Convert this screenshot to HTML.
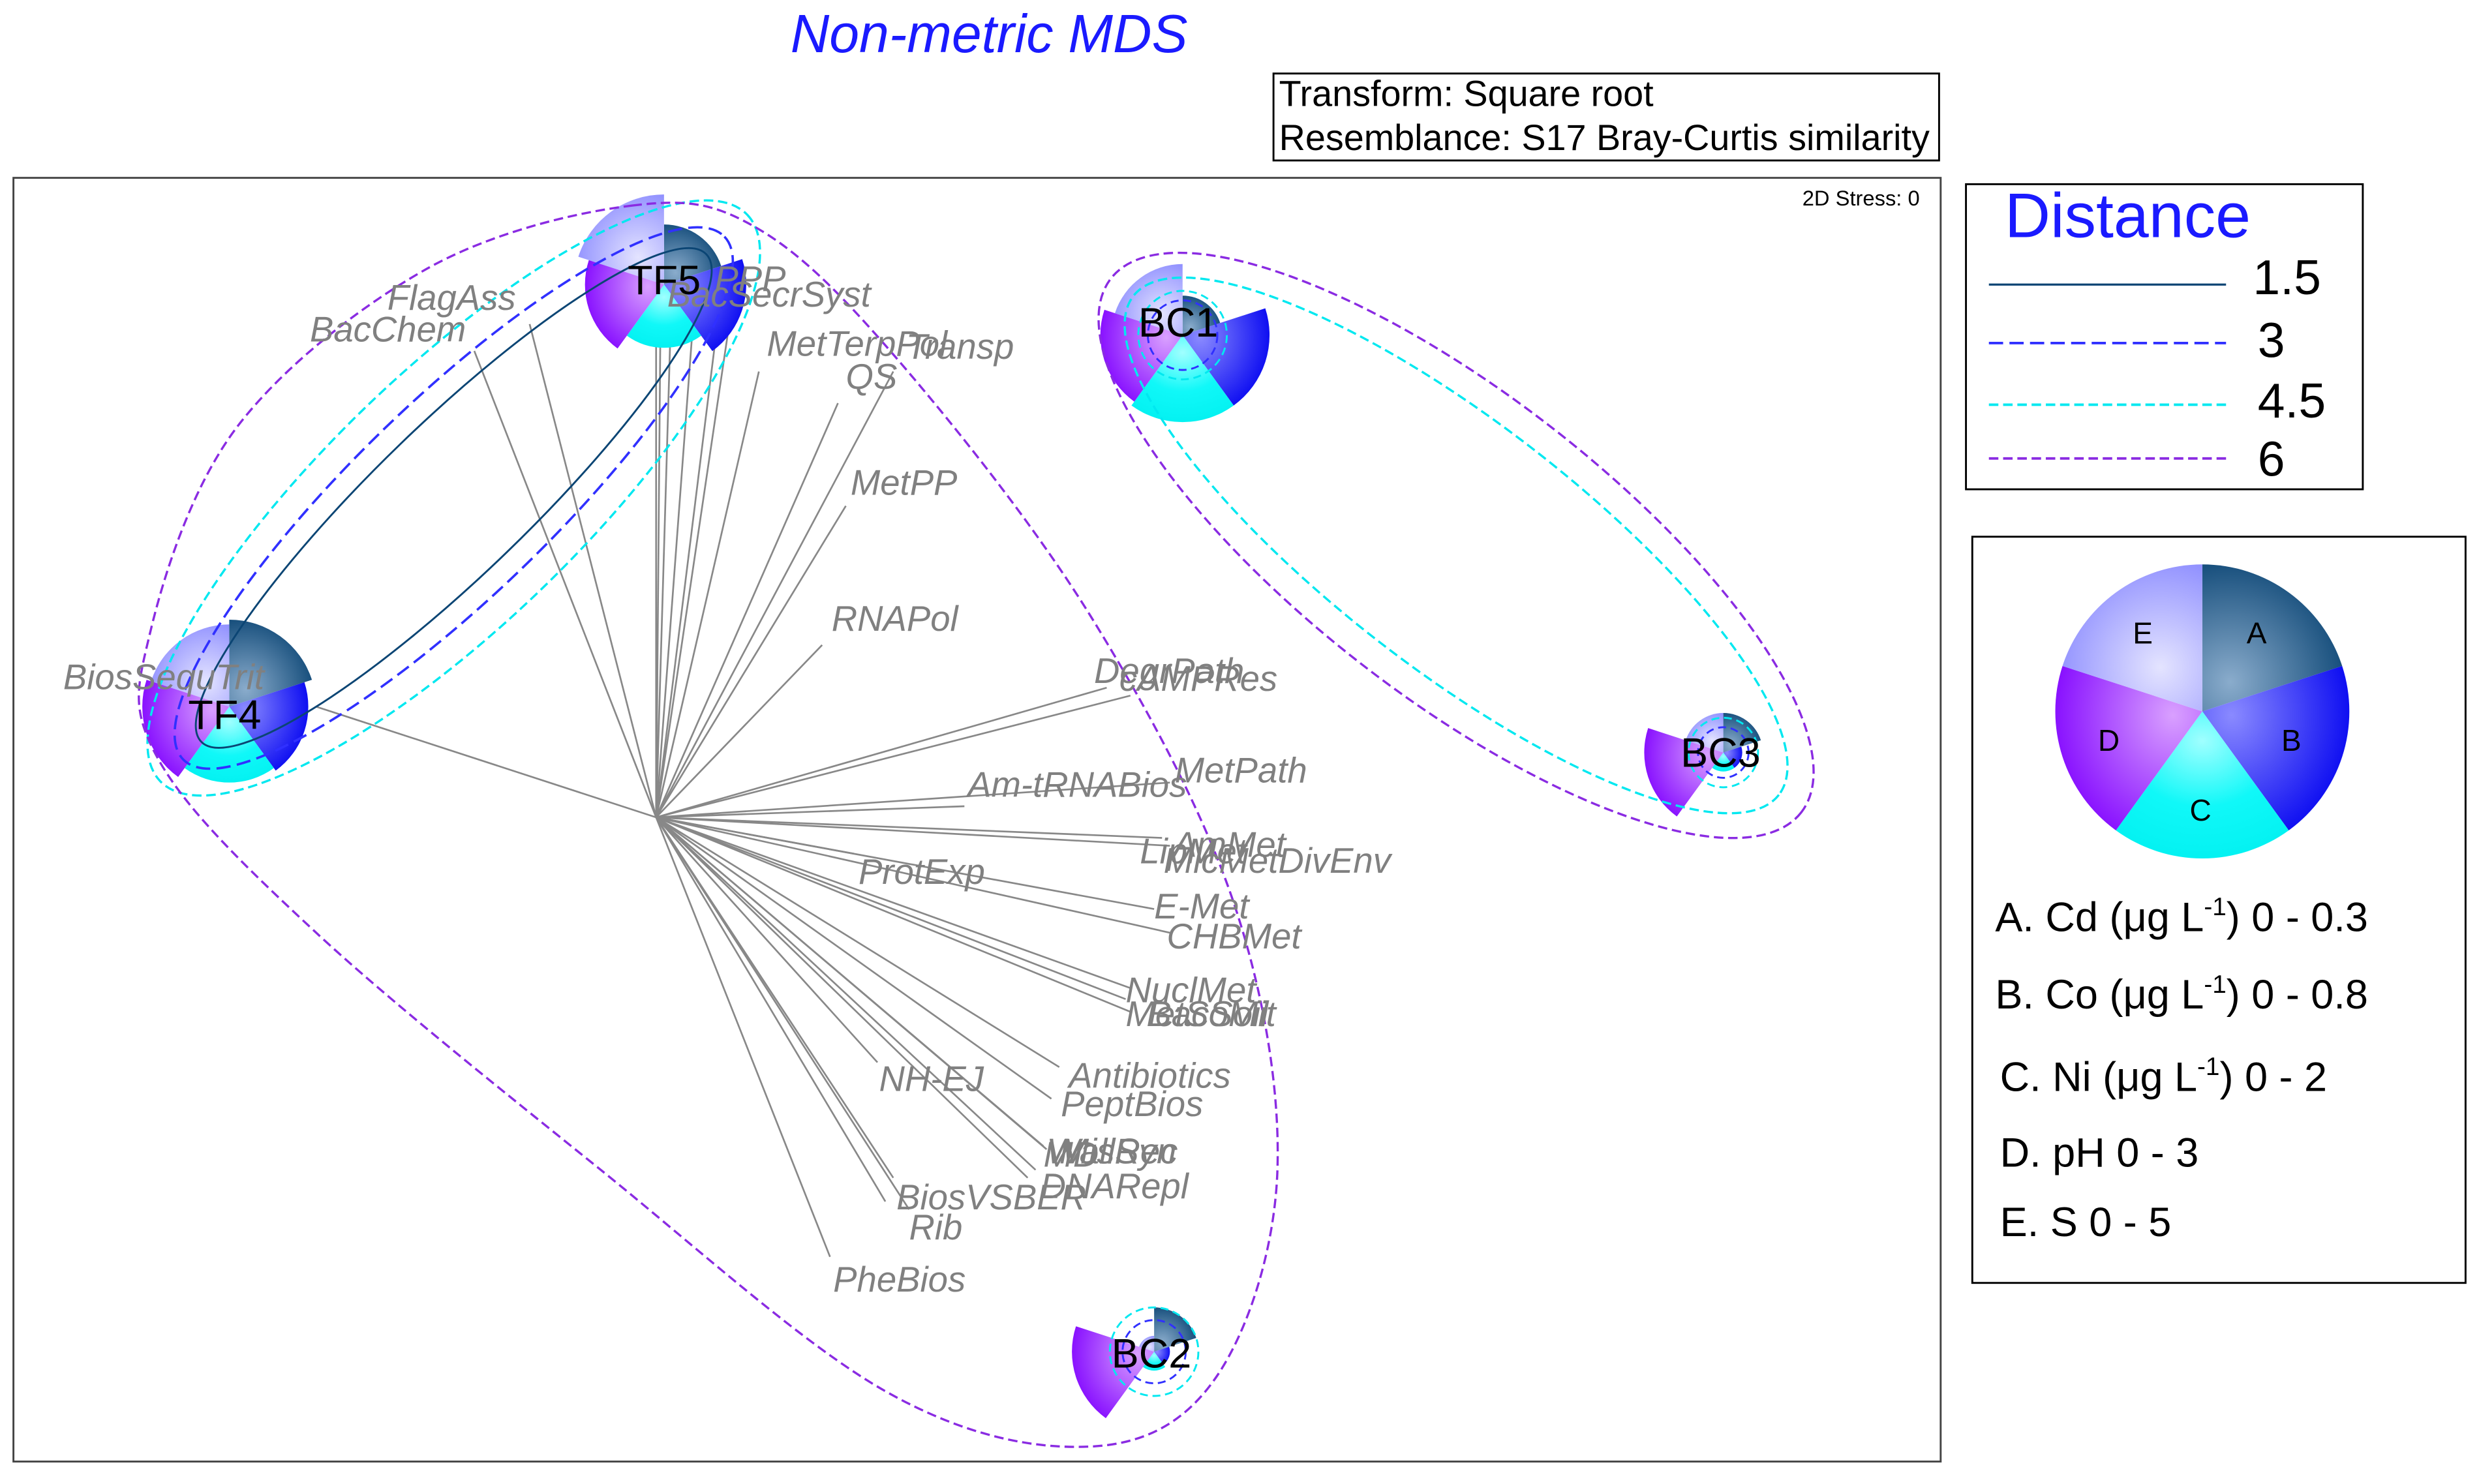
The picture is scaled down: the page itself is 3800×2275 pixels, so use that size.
<!DOCTYPE html>
<html><head><meta charset="utf-8">
<style>
html,body{margin:0;padding:0;background:#fff;}
svg{display:block;}
.lab{font-family:"Liberation Sans",sans-serif;font-style:italic;fill:#808080;font-size:22.5px;}
.nm{font-family:"Liberation Sans",sans-serif;fill:#000;font-size:26px;}
.lg{font-family:"Liberation Sans",sans-serif;fill:#000;}
</style></head>
<body>
<svg id="s" width="3800" height="2275" viewBox="0 0 1568 938.7" preserveAspectRatio="none" xmlns="http://www.w3.org/2000/svg">
<defs>
<radialGradient id="gA" cx="0.2" cy="0.8" r="0.9"><stop offset="0" stop-color="#8aaccc"/><stop offset="1" stop-color="#0b4574"/></radialGradient>
<radialGradient id="gB" cx="0.2" cy="0.3" r="0.9"><stop offset="0" stop-color="#8a8aff"/><stop offset="1" stop-color="#0000f0"/></radialGradient>
<radialGradient id="gC" cx="0.5" cy="0.2" r="0.9"><stop offset="0" stop-color="#a0ffff"/><stop offset="0.5" stop-color="#10f8f8"/><stop offset="1" stop-color="#00f0f0"/></radialGradient>
<radialGradient id="gD" cx="0.8" cy="0.3" r="0.9"><stop offset="0" stop-color="#d9a0ff"/><stop offset="1" stop-color="#7f00ff"/></radialGradient>
<radialGradient id="gE" cx="0.7" cy="0.7" r="0.9"><stop offset="0" stop-color="#e4e4ff"/><stop offset="1" stop-color="#8080ff"/></radialGradient>
</defs>
<rect x="0" y="0" width="1568" height="938.7" fill="#fff"/>
<text x="500" y="33" font-family="Liberation Sans,sans-serif" font-style="italic" font-size="34" fill="#1a1aff">Non-metric MDS</text>
<rect x="805.5" y="46.5" width="421" height="55" fill="#fff" stroke="#000" stroke-width="1.2"/>
<text x="809" y="67" class="lg" font-size="23">Transform: Square root</text>
<text x="809" y="95" class="lg" font-size="23">Resemblance: S17 Bray-Curtis similarity</text>
<rect x="8.5" y="112.5" width="1219" height="812" fill="#fff" stroke="#444" stroke-width="1.2"/>
<text x="1140" y="130" class="lg" font-size="13.5">2D Stress: 0</text>

<g id="vec" stroke="#888" stroke-width="1.1" fill="none"></g>
<g id="pies"></g>
<g id="ell" fill="none"></g>

<g>
<text class="lab" x="245" y="196">FlagAss</text>
<text class="lab" x="196" y="216">BacChem</text>
<text class="lab" x="422" y="194">BacSecrSyst</text>
<text class="lab" x="452" y="184">PPP</text>
<text class="lab" x="485" y="225">MetTerpPol</text>
<text class="lab" x="573" y="227">Transp</text>
<text class="lab" x="535" y="246">QS</text>
<text class="lab" x="538" y="313">MetPP</text>
<text class="lab" x="526" y="399">RNAPol</text>
<text class="lab" x="40" y="436">BiosSequTrit</text>
<text class="lab" x="692" y="432">DegrPath</text>
<text class="lab" x="708" y="437">cAMPRes</text>
<text class="lab" x="743" y="495">MetPath</text>
<text class="lab" x="612" y="504">Am-tRNABios</text>
<text class="lab" x="721" y="546">LipMet</text>
<text class="lab" x="742" y="542">AmMet</text>
<text class="lab" x="736" y="552">MicMetDivEnv</text>
<text class="lab" x="543" y="559">ProtExp</text>
<text class="lab" x="730" y="581">E-Met</text>
<text class="lab" x="738" y="600">CHBMet</text>
<text class="lab" x="712" y="634">NuclMet</text>
<text class="lab" x="712" y="649">MetSoMit</text>
<text class="lab" x="726" y="649">BacSoil</text>
<text class="lab" x="556" y="690">NH-EJ</text>
<text class="lab" x="676" y="688">Antibiotics</text>
<text class="lab" x="671" y="706">PeptBios</text>
<text class="lab" x="662" y="736">WallSyn</text>
<text class="lab" x="670" y="736">MisRec</text>
<text class="lab" x="660" y="738">MD</text>
<text class="lab" x="658" y="758">DNARepl</text>
<text class="lab" x="567" y="765">BiosVSBER</text>
<text class="lab" x="575" y="784">Rib</text>
<text class="lab" x="527" y="817">PheBios</text>
</g>
<g>
<text class="nm" x="397" y="186">TF5</text>
<text class="nm" x="119" y="461">TF4</text>
<text class="nm" x="720" y="213">BC1</text>
<text class="nm" x="1063" y="485">BC3</text>
<text class="nm" x="703" y="865">BC2</text>
</g>

<rect x="1243.5" y="116.5" width="251" height="193" fill="#fff" stroke="#000" stroke-width="1.2"/>
<text x="1268" y="150" font-family="Liberation Sans,sans-serif" font-size="40" fill="#1a1aff">Distance</text>
<line x1="1258" y1="180" x2="1408" y2="180" stroke="#0b4574" stroke-width="1.3"/>
<line x1="1258" y1="217" x2="1408" y2="217" stroke="#3030ff" stroke-width="1.6" stroke-dasharray="9 4"/>
<line x1="1258" y1="256" x2="1408" y2="256" stroke="#00e8f0" stroke-width="1.6" stroke-dasharray="6 3"/>
<line x1="1258" y1="290" x2="1408" y2="290" stroke="#8a2be2" stroke-width="1.6" stroke-dasharray="6 3"/>
<text x="1425" y="186" class="lg" font-size="31">1.5</text>
<text x="1428" y="226" class="lg" font-size="31">3</text>
<text x="1428" y="264" class="lg" font-size="31">4.5</text>
<text x="1428" y="301" class="lg" font-size="31">6</text>

<rect x="1247.5" y="339.5" width="312" height="472" fill="#fff" stroke="#000" stroke-width="1.2"/>
<g id="lpie"></g>
<text x="1421" y="407" class="lg" font-size="19">A</text>
<text x="1443" y="475" class="lg" font-size="19">B</text>
<text x="1385" y="519" class="lg" font-size="19">C</text>
<text x="1327" y="475" class="lg" font-size="19">D</text>
<text x="1349" y="407" class="lg" font-size="19">E</text>
<text x="1262" y="589" class="lg" font-size="26">A. Cd (μg L<tspan font-size="16" dy="-10">-1</tspan><tspan dy="10">) 0 - 0.3</tspan></text>
<text x="1262" y="638" class="lg" font-size="26">B. Co (μg L<tspan font-size="16" dy="-10">-1</tspan><tspan dy="10">) 0 - 0.8</tspan></text>
<text x="1265" y="690" class="lg" font-size="26">C. Ni  (μg L<tspan font-size="16" dy="-10">-1</tspan><tspan dy="10">) 0 - 2</tspan></text>
<text x="1265" y="738" class="lg" font-size="26">D. pH 0 - 3</text>
<text x="1265" y="782" class="lg" font-size="26">E. S 0 - 5</text>
</svg>
<script>
var NS="http://www.w3.org/2000/svg";
function el(p,t,a){var e=document.createElementNS(NS,t);for(var k in a)e.setAttribute(k,a[k]);p.appendChild(e);return e;}
function wedge(cx,cy,r,a0,a1){var r0=a0*Math.PI/180,r1=a1*Math.PI/180;
return "M"+cx+","+cy+"L"+(cx+r*Math.sin(r0))+","+(cy-r*Math.cos(r0))+"A"+r+","+r+" 0 0 1 "+(cx+r*Math.sin(r1))+","+(cy-r*Math.cos(r1))+"Z";}
function pie(g,cx,cy,rs){var ids=["gA","gB","gC","gD","gE"];for(var i=0;i<5;i++){if(rs[i]>0)el(g,"path",{d:wedge(cx,cy,rs[i],i*72,(i+1)*72),fill:"url(#"+ids[i]+")"});}}
var vg=document.getElementById("vec"),ox=415,oy=517;
var ends=[[335,205],[300,222],[415,170],[418,175],[425,178],[440,182],[455,195],[462,200],[480,235],[530,255],[565,235],[535,320],[520,408],[200,447],[700,435],[715,440],[740,495],[610,510],[735,530],[740,535],[540,540],[730,575],[740,590],[715,625],[715,640],[712,632],[555,672],[670,675],[665,695],[660,725],[662,727],[650,745],[655,740],[565,745],[575,765],[525,795],[560,760]];
ends.forEach(function(e){el(vg,"line",{x1:ox,y1:oy,x2:e[0],y2:e[1]});});
var pg=document.getElementById("pies");
pie(pg,420,180,[38,52,40,50,57]);
pie(pg,145,447,[55,50,48,55,52]);
pie(pg,748,212,[25,55,55,52,45]);
pie(pg,1090,476,[25,12,12,50,25]);
pie(pg,730,855,[28,10,12,52,10]);
pie(document.getElementById("lpie"),1393,450,[93,93,93,93,93]);
var eg=document.getElementById("ell");
var P="#8a2be2",C="#00e8f0",B="#3030ff",N="#0b4574";
function ell(cx,cy,rx,ry,ang,col,da,w){el(eg,"ellipse",{cx:cx,cy:cy,rx:rx,ry:ry,transform:"rotate("+ang+" "+cx+" "+cy+")",stroke:col,"stroke-dasharray":da||"none","stroke-width":w||1.3});}
ell(287,315,222,48,-44,N,null,1.2);
ell(287,315,238,62,-44,B,"9 4",1.5);
ell(287,315,258,80,-44,C,"6 3",1.4);
ell(921,345,258,78,37.7,C,"6 3",1.4);
ell(921,345,276,96,37.7,P,"6 3",1.4);
[[748,212,22,B],[748,212,28,C],[1090,476,16,B],[1090,476,22,C],[730,855,20,B],[730,855,28,C]].forEach(function(c){el(eg,"circle",{cx:c[0],cy:c[1],r:c[2],stroke:c[3],"stroke-dasharray":"5 3","stroke-width":1.2});});
var pts=[[400,130],[480,145],[570,230],[690,390],[780,570],[808,740],[770,870],[690,915],[560,880],[380,740],[200,590],[100,480],[95,400],[150,270],[270,170]];
var n=pts.length,d="M"+pts[0][0]+","+pts[0][1];
for(var i=0;i<n;i++){var p0=pts[(i-1+n)%n],p1=pts[i],p2=pts[(i+1)%n],p3=pts[(i+2)%n];
d+="C"+(p1[0]+(p2[0]-p0[0])/6)+","+(p1[1]+(p2[1]-p0[1])/6)+" "+(p2[0]-(p3[0]-p1[0])/6)+","+(p2[1]-(p3[1]-p1[1])/6)+" "+p2[0]+","+p2[1];}
el(eg,"path",{d:d+"Z",stroke:P,"stroke-dasharray":"6 3","stroke-width":1.4});
</script>
</body></html>
